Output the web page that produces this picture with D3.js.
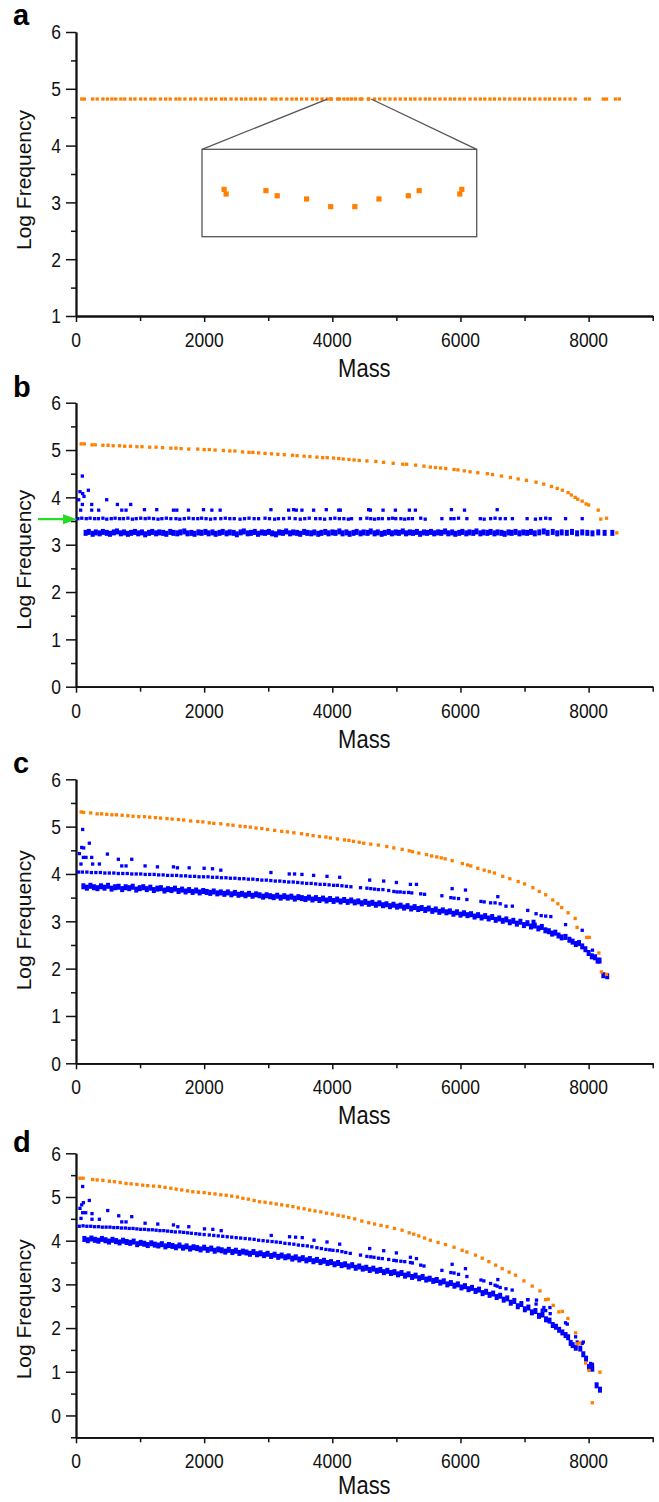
<!DOCTYPE html>
<html>
<head>
<meta charset="utf-8">
<script src="https://cdn.jsdelivr.net/npm/d3@7"></script>
<style>
  body { margin: 0; background: #fff; }
  svg { display: block; }
</style>
</head>
<body>
<script>
// ---- data: [mass, log frequency] ----

// panel a: one flat orange series
const aMass = [90, 130, 260, 330, 420, 490, 560, 620, 700, 760, 850, 920, 1010, 1080, 1170, 1230, 1320, 1400, 1470,
  1560, 1620, 1700, 1790, 1860, 1950, 2030, 2110, 2180, 2270, 2330, 2420, 2500, 2580, 2650, 2730, 2800, 2880, 2950,
  3060, 3120, 3200, 3290, 3370, 3440, 3520, 3600, 3690, 3760, 3840, 3920, 3977, 3982, 4081, 4109, 4182, 4242, 4302,
  4362, 4435, 4462, 4563, 4568, 4660, 4740, 4820, 4900, 4980, 5060, 5140, 5220, 5290, 5370, 5450, 5520, 5600, 5680,
  5760, 5840, 5910, 5990, 6060, 6150, 6230, 6310, 6380, 6460, 6530, 6610, 6690, 6770, 6850, 6920, 7000, 7080, 7160,
  7240, 7320, 7390, 7470, 7550, 7630, 7710, 7790, 7950, 8010, 8230, 8280, 8420, 8480];
const aLevel = 4.82;
const insetMass = [3977, 3982, 4081, 4109, 4182, 4242, 4302, 4362, 4435, 4462, 4563, 4568];
const insetFreq = [4.8225, 4.8193, 4.8216, 4.8181, 4.8159, 4.8106, 4.8106, 4.8159, 4.8181, 4.8216, 4.8193, 4.8225];
const insetMassRange = [3922, 4605];
const insetFreqRange = [4.79, 4.85];

// panel b
const bOrange = [[80,5.13],[130,5.13],[250,5.11],[300,5.11],[420,5.10],[500,5.10],[580,5.09],[680,5.09],[760,5.08],
  [850,5.08],[950,5.07],[1030,5.07],[1150,5.06],[1250,5.06],[1350,5.05],[1480,5.04],[1560,5.04],[1640,5.03],
  [1760,5.02],[1900,5.02],[2000,5.01],[2080,5.01],[2170,5.00],[2300,4.99],[2400,4.98],[2480,4.98],[2600,4.96],
  [2700,4.95],[2760,4.95],[2850,4.94],[2950,4.93],[3050,4.92],[3150,4.91],[3250,4.90],[3380,4.89],[3450,4.88],
  [3560,4.87],[3650,4.86],[3760,4.85],[3850,4.84],[3920,4.84],[4020,4.83],[4100,4.82],[4170,4.81],[4260,4.80],
  [4340,4.79],[4420,4.78],[4540,4.77],[4680,4.76],[4800,4.74],[4950,4.72],[5100,4.70],[5160,4.70],[5300,4.68],
  [5430,4.66],[5530,4.64],[5610,4.63],[5690,4.62],[5770,4.61],[5900,4.59],[5960,4.58],[6060,4.56],[6150,4.54],
  [6270,4.52],[6420,4.50],[6500,4.48],[6640,4.45],[6780,4.42],[6900,4.39],[7030,4.36],[7180,4.32],[7300,4.28],
  [7420,4.23],[7510,4.19],[7590,4.15],[7680,4.10],[7730,4.05],[7790,4.00],[7830,3.96],[7900,3.92],[7960,3.86],
  [8000,3.84],[8150,3.73],[8190,3.54],[8280,3.56],[8440,3.25]];
const bBand = [[150,3.25],[200,3.27],[260,3.23],[310,3.26],[370,3.24],[420,3.27],[480,3.25],[530,3.23],[590,3.26],
  [640,3.28],[700,3.24],[750,3.26],[810,3.23],[860,3.25],[920,3.27],[970,3.24],[1030,3.26],[1080,3.22],[1140,3.25],
  [1190,3.27],[1250,3.24],[1300,3.26],[1360,3.25],[1410,3.23],[1470,3.27],[1520,3.25],[1580,3.24],[1630,3.26],
  [1690,3.28],[1740,3.24],[1800,3.25],[1850,3.23],[1910,3.26],[1960,3.25],[2020,3.27],[2070,3.24],[2130,3.26],
  [2180,3.23],[2240,3.25],[2290,3.27],[2350,3.24],[2400,3.26],[2460,3.25],[2510,3.22],[2570,3.26],[2620,3.28],
  [2680,3.24],[2730,3.25],[2790,3.27],[2840,3.23],[2900,3.26],[2950,3.25],[3010,3.27],[3060,3.24],[3120,3.22],
  [3170,3.26],[3230,3.25],[3280,3.28],[3340,3.24],[3390,3.26],[3450,3.25],[3500,3.23],[3560,3.27],[3610,3.25],
  [3670,3.24],[3720,3.26],[3780,3.23],[3830,3.25],[3890,3.27],[3940,3.24],[4000,3.26],[4050,3.25],[4110,3.28],
  [4160,3.24],[4220,3.26],[4270,3.23],[4330,3.25],[4380,3.27],[4440,3.24],[4490,3.26],[4550,3.25],[4600,3.28],
  [4660,3.24],[4710,3.26],[4770,3.23],[4820,3.25],[4880,3.27],[4930,3.24],[4990,3.26],[5040,3.25],[5100,3.28],
  [5150,3.24],[5210,3.26],[5260,3.25],[5320,3.27],[5370,3.23],[5430,3.26],[5480,3.25],[5540,3.27],[5590,3.24],
  [5650,3.26],[5700,3.25],[5760,3.28],[5810,3.24],[5870,3.26],[5920,3.23],[5980,3.25],[6030,3.27],[6090,3.24],
  [6140,3.26],[6200,3.25],[6250,3.28],[6310,3.24],[6360,3.26],[6420,3.25],[6470,3.27],[6530,3.24],[6580,3.26],
  [6640,3.25],[6690,3.23],[6750,3.26],[6800,3.25],[6860,3.27],[6920,3.24],[6980,3.26],[7040,3.25],[7100,3.27],
  [7160,3.24],[7230,3.26],[7300,3.28],[7360,3.25],[7440,3.27],[7510,3.24],[7580,3.26],[7660,3.25],[7740,3.27],
  [7820,3.24],[7900,3.26],[7980,3.25],[8060,3.24],[8150,3.26],[8250,3.25],[8370,3.25]];
const bUpper = [[30,3.55],[90,3.56],[160,3.55],[220,3.56],[290,3.55],[350,3.55],[420,3.56],[480,3.54],[550,3.55],
  [610,3.56],[680,3.55],[740,3.55],[810,3.56],[880,3.54],[940,3.55],[1010,3.56],[1080,3.55],[1140,3.56],[1210,3.55],
  [1280,3.54],[1340,3.55],[1410,3.56],[1480,3.55],[1560,3.55],[1620,3.54],[1690,3.55],[1760,3.56],[1830,3.55],
  [1900,3.55],[1960,3.56],[2030,3.55],[2100,3.54],[2170,3.55],[2260,3.55],[2330,3.56],[2400,3.55],[2470,3.55],
  [2560,3.54],[2630,3.55],[2700,3.56],[2780,3.55],[2850,3.55],[2950,3.56],[3020,3.55],[3100,3.54],[3160,3.55],
  [3240,3.55],[3330,3.56],[3420,3.55],[3500,3.54],[3570,3.55],[3640,3.56],[3740,3.55],[3810,3.55],[3880,3.54],
  [3970,3.55],[4040,3.56],[4110,3.55],[4180,3.55],[4250,3.54],[4300,3.55],[4440,3.55],[4540,3.56],[4600,3.55],
  [4660,3.54],[4720,3.55],[4780,3.55],[4880,3.55],[4940,3.56],[4990,3.55],[5070,3.55],[5130,3.54],[5190,3.55],
  [5250,3.55],[5380,3.56],[5450,3.54],[5710,3.55],[5850,3.55],[5900,3.55],[5970,3.56],[6100,3.55],[6310,3.55],
  [6370,3.54],[6470,3.55],[6540,3.56],[6620,3.55],[6700,3.55],[6810,3.55],[7040,3.55],[7170,3.54],[7250,3.55],
  [7330,3.56],[7400,3.55],[7640,3.55],[7900,3.55]];
const bScatter = [[99,4.45],[62,4.12],[104,4.08],[42,3.95],[125,4.02],[193,4.15],[99,3.85],[245,3.85],[73,3.73],
  [245,3.73],[354,3.73],[479,3.95],[646,3.85],[714,3.73],[781,3.73],[854,3.85],[1068,3.74],[1260,3.74],[1521,3.73],
  [1573,3.73],[1755,3.73],[1990,3.74],[2120,3.73],[2250,3.73],[3042,3.74],[3318,3.73],[3396,3.74],[3438,3.73],
  [3526,3.73],[3708,3.73],[3906,3.74],[4100,3.73],[4125,3.73],[4567,3.74],[4594,3.73],[4792,3.73],[4984,3.73],
  [5203,3.73],[5297,3.73],[5859,3.74],[6063,3.73],[6573,3.74]];
const arrowFreq = 3.54;

// panel c
const cOrange = [[80,5.31],[120,5.30],[230,5.29],[330,5.27],[400,5.27],[480,5.26],[560,5.25],[630,5.25],[720,5.24],
  [810,5.23],[890,5.22],[980,5.21],[1070,5.21],[1150,5.20],[1240,5.19],[1320,5.18],[1420,5.17],[1500,5.16],
  [1600,5.15],[1680,5.14],[1790,5.12],[1900,5.11],[1980,5.10],[2080,5.08],[2150,5.07],[2260,5.06],[2370,5.04],
  [2450,5.03],[2560,5.01],[2640,5.00],[2720,4.99],[2810,4.97],[2900,4.96],[2990,4.94],[3100,4.92],[3210,4.90],
  [3300,4.89],[3400,4.87],[3520,4.85],[3610,4.83],[3700,4.81],[3800,4.79],[3900,4.78],[3970,4.76],[4080,4.74],
  [4190,4.72],[4260,4.71],[4330,4.69],[4420,4.67],[4490,4.65],[4600,4.63],[4720,4.61],[4850,4.58],[4960,4.55],
  [5090,4.52],[5200,4.49],[5250,4.47],[5350,4.44],[5470,4.41],[5550,4.38],[5630,4.36],[5700,4.34],[5760,4.32],
  [5870,4.28],[6030,4.22],[6110,4.19],[6160,4.17],[6270,4.12],[6370,4.08],[6450,4.05],[6530,4.02],[6660,3.95],
  [6770,3.90],[6900,3.84],[7000,3.79],[7130,3.71],[7230,3.63],[7330,3.56],[7440,3.45],[7520,3.37],[7580,3.29],
  [7680,3.18],[7790,3.06],[7820,2.87],[7970,2.66],[8010,2.66],[8160,2.33],[8200,1.93],[8280,1.88]];
const cBand = [[115,3.74],[170,3.71],[225,3.75],[280,3.72],[335,3.70],[390,3.74],[445,3.71],[500,3.75],[555,3.69],
  [610,3.72],[665,3.73],[720,3.68],[775,3.72],[830,3.70],[885,3.73],[940,3.67],[995,3.70],[1050,3.72],[1105,3.68],
  [1160,3.71],[1215,3.66],[1270,3.69],[1325,3.70],[1380,3.65],[1435,3.68],[1490,3.66],[1545,3.69],[1600,3.64],
  [1655,3.67],[1710,3.63],[1765,3.66],[1820,3.62],[1875,3.65],[1930,3.61],[1985,3.64],[2040,3.62],[2095,3.60],
  [2150,3.63],[2205,3.59],[2260,3.61],[2315,3.58],[2370,3.61],[2425,3.57],[2480,3.60],[2535,3.56],[2590,3.58],
  [2645,3.55],[2700,3.58],[2755,3.54],[2810,3.57],[2865,3.55],[2920,3.52],[2975,3.55],[3030,3.53],[3085,3.51],
  [3140,3.54],[3195,3.50],[3250,3.53],[3305,3.50],[3360,3.52],[3415,3.48],[3470,3.51],[3525,3.49],[3580,3.47],
  [3635,3.50],[3690,3.46],[3745,3.49],[3800,3.45],[3855,3.48],[3910,3.44],[3965,3.47],[4020,3.43],[4075,3.46],
  [4130,3.42],[4185,3.45],[4240,3.41],[4295,3.44],[4350,3.40],[4405,3.42],[4460,3.38],[4515,3.41],[4570,3.37],
  [4625,3.39],[4680,3.35],[4735,3.38],[4790,3.34],[4845,3.36],[4900,3.32],[4955,3.35],[5010,3.31],[5065,3.33],
  [5120,3.29],[5175,3.32],[5230,3.27],[5285,3.30],[5340,3.26],[5395,3.28],[5450,3.24],[5505,3.27],[5560,3.22],
  [5615,3.25],[5670,3.20],[5725,3.23],[5780,3.19],[5835,3.21],[5890,3.16],[5945,3.19],[6000,3.14],[6055,3.17],
  [6110,3.13],[6165,3.15],[6220,3.10],[6275,3.13],[6330,3.08],[6385,3.11],[6440,3.06],[6495,3.09],[6550,3.03],
  [6605,3.06],[6660,3.01],[6715,3.04],[6770,2.98],[6825,3.01],[6880,2.95],[6935,2.99],[6990,2.92],[7045,2.96],
  [7100,2.89],[7140,2.97],[7160,2.91],[7215,2.85],[7270,2.88],[7325,2.81],[7380,2.79],[7430,2.74],[7480,2.76],
  [7530,2.70],[7580,2.66],[7640,2.67],[7700,2.61],[7750,2.57],[7800,2.52],[7850,2.54],[7900,2.47],[7950,2.41],
  [8000,2.33],[8050,2.26],[8100,2.24],[8140,2.17],[8170,2.17],[8230,1.86],[8290,1.84]];
const cUpper = [[40,4.04],[100,4.04],[170,4.04],[240,4.03],[310,4.03],[380,4.03],[450,4.02],[520,4.02],[590,4.02],
  [660,4.01],[730,4.01],[800,4.01],[870,4.00],[940,4.00],[1010,4.00],[1080,3.99],[1150,3.99],[1220,3.99],[1290,3.98],
  [1360,3.98],[1430,3.97],[1500,3.97],[1570,3.97],[1640,3.96],[1710,3.96],[1780,3.95],[1850,3.95],[1920,3.94],
  [1990,3.94],[2060,3.94],[2130,3.93],[2200,3.93],[2270,3.92],[2340,3.92],[2410,3.91],[2480,3.91],[2550,3.90],
  [2620,3.90],[2690,3.89],[2760,3.89],[2830,3.88],[2900,3.87],[2970,3.87],[3040,3.86],[3110,3.85],[3180,3.85],
  [3250,3.84],[3320,3.83],[3390,3.83],[3460,3.82],[3530,3.81],[3600,3.80],[3670,3.80],[3740,3.79],[3810,3.78],
  [3880,3.78],[3950,3.77],[4020,3.76],[4080,3.76],[4150,3.75],[4220,3.74],[4290,3.73],[4440,3.71],[4540,3.70],
  [4600,3.69],[4660,3.68],[4720,3.67],[4790,3.67],[4880,3.65],[4960,3.63],[5010,3.62],[5060,3.62],[5120,3.61],
  [5190,3.61],[5240,3.60],[5380,3.58],[5440,3.57],[5710,3.54],[5850,3.50],[5900,3.49],[5970,3.48],[6100,3.46],
  [6320,3.42],[6370,3.41],[6470,3.39],[6540,3.39],[6620,3.37],[6710,3.32],[6810,3.32],[7050,3.23],[7180,3.16],
  [7260,3.12],[7330,3.11],[7410,3.10],[7640,2.93],[7900,2.81],[8060,2.39]];
const cScatter = [[104,4.94],[52,4.43],[89,4.56],[120,4.55],[115,4.35],[156,4.35],[78,4.21],[208,4.65],[245,4.35],
  [260,4.21],[365,4.21],[490,4.42],[661,4.31],[714,4.17],[781,4.17],[870,4.31],[1078,4.17],[1271,4.15],[1521,4.15],
  [1583,4.13],[1766,4.13],[2000,4.12],[2130,4.11],[2260,4.08],[3042,4.03],[3328,4.00],[3411,4.00],[3526,3.99],
  [3708,3.97],[3917,3.95],[4115,3.93],[4583,3.87],[4802,3.85],[5000,3.82],[5219,3.78],[5313,3.78],[5870,3.69],
  [6078,3.66],[6583,3.52]];

// panel d
const dOrange = [[62,5.43],[110,5.43],[260,5.40],[330,5.39],[420,5.38],[521,5.36],[600,5.35],[690,5.33],[781,5.31],
  [860,5.30],[950,5.29],[1042,5.27],[1120,5.26],[1210,5.25],[1302,5.24],[1390,5.22],[1480,5.20],[1563,5.18],
  [1650,5.16],[1740,5.14],[1823,5.12],[1910,5.11],[2000,5.10],[2083,5.08],[2170,5.07],[2260,5.05],[2344,5.04],
  [2430,5.02],[2520,5.00],[2604,4.97],[2690,4.95],[2780,4.92],[2865,4.89],[2950,4.88],[3040,4.86],[3125,4.84],
  [3210,4.82],[3300,4.80],[3385,4.78],[3470,4.75],[3560,4.73],[3646,4.70],[3730,4.68],[3820,4.66],[3910,4.63],
  [4000,4.61],[4090,4.58],[4170,4.56],[4255,4.53],[4350,4.50],[4460,4.45],[4568,4.41],[4660,4.38],[4760,4.35],
  [4854,4.32],[4970,4.28],[5089,4.24],[5200,4.18],[5270,4.15],[5349,4.11],[5440,4.06],[5531,4.01],[5650,3.96],
  [5766,3.91],[5900,3.85],[6026,3.78],[6100,3.74],[6234,3.67],[6340,3.60],[6443,3.52],[6550,3.44],[6651,3.36],
  [6760,3.28],[6859,3.21],[6990,3.08],[7120,2.96],[7240,2.85],[7328,2.65],[7370,2.66],[7448,2.52],[7536,2.37],
  [7590,2.38],[7677,2.22],[7797,1.89],[7823,1.64],[7860,1.66],[7953,1.20],[8005,1.03],[8057,0.29],[8177,0.99]];
const dBand = [[130,4.04],[185,4.01],[240,4.05],[295,4.02],[350,4.00],[405,4.04],[460,4.01],[515,3.98],[570,4.02],
  [625,3.99],[680,3.96],[735,4.00],[790,3.97],[845,3.95],[900,3.98],[955,3.92],[1010,3.95],[1065,3.93],[1120,3.90],
  [1175,3.94],[1230,3.91],[1285,3.89],[1340,3.92],[1395,3.87],[1450,3.90],[1505,3.88],[1560,3.85],[1615,3.89],
  [1670,3.84],[1725,3.87],[1780,3.82],[1835,3.85],[1890,3.83],[1945,3.80],[2000,3.84],[2055,3.79],[2110,3.82],
  [2165,3.77],[2220,3.80],[2275,3.78],[2330,3.75],[2385,3.79],[2440,3.74],[2495,3.77],[2550,3.72],[2605,3.75],
  [2660,3.73],[2715,3.70],[2770,3.74],[2825,3.69],[2880,3.71],[2935,3.67],[2990,3.70],[3045,3.65],[3100,3.68],
  [3155,3.63],[3210,3.66],[3265,3.62],[3320,3.64],[3375,3.59],[3430,3.62],[3485,3.57],[3540,3.60],[3595,3.55],
  [3650,3.58],[3705,3.53],[3760,3.56],[3815,3.51],[3870,3.54],[3925,3.49],[3980,3.51],[4035,3.46],[4090,3.49],
  [4145,3.44],[4200,3.46],[4255,3.41],[4310,3.44],[4365,3.38],[4420,3.41],[4475,3.36],[4530,3.38],[4585,3.33],
  [4640,3.36],[4695,3.31],[4750,3.33],[4805,3.28],[4860,3.31],[4915,3.26],[4970,3.28],[5025,3.23],[5080,3.26],
  [5135,3.20],[5190,3.23],[5245,3.17],[5300,3.20],[5355,3.14],[5410,3.17],[5465,3.11],[5520,3.13],[5575,3.08],
  [5630,3.10],[5685,3.04],[5740,3.07],[5795,3.00],[5850,3.03],[5905,2.97],[5960,3.00],[6015,2.93],[6070,2.96],
  [6125,2.89],[6180,2.92],[6235,2.85],[6290,2.88],[6345,2.80],[6400,2.83],[6455,2.76],[6510,2.79],[6565,2.71],
  [6620,2.74],[6675,2.65],[6730,2.68],[6785,2.58],[6840,2.62],[6895,2.50],[6950,2.55],[7005,2.43],[7060,2.47],
  [7115,2.36],[7170,2.39],[7225,2.28],[7280,2.31],[7335,2.20],[7390,2.17],[7440,2.07],[7490,2.03],[7540,1.96],
  [7590,1.90],[7640,1.84],[7680,1.79],[7720,1.66],[7750,1.61],[7800,1.55],[7870,1.53],[7917,1.40],[7960,1.30],
  [8005,1.11],[8057,1.07],[8125,0.69],[8177,0.59]];
const dUpper = [[50,4.33],[110,4.34],[170,4.33],[230,4.33],[290,4.32],[350,4.32],[410,4.31],[470,4.31],[530,4.31],
  [590,4.30],[650,4.30],[710,4.29],[770,4.29],[830,4.28],[890,4.28],[950,4.27],[1010,4.26],[1070,4.26],[1130,4.25],
  [1190,4.25],[1250,4.24],[1310,4.23],[1370,4.23],[1430,4.22],[1490,4.21],[1550,4.20],[1620,4.20],[1680,4.19],
  [1740,4.18],[1800,4.17],[1870,4.16],[1930,4.15],[2000,4.14],[2080,4.13],[2150,4.12],[2220,4.11],[2290,4.10],
  [2360,4.09],[2430,4.08],[2500,4.07],[2570,4.06],[2640,4.05],[2710,4.04],[2780,4.03],[2850,4.01],[2920,4.00],
  [2990,3.99],[3060,3.98],[3125,3.97],[3190,3.96],[3260,3.94],[3330,3.93],[3400,3.92],[3470,3.90],[3540,3.89],
  [3610,3.88],[3680,3.86],[3760,3.84],[3830,3.82],[3900,3.80],[3960,3.79],[4010,3.78],[4080,3.77],[4150,3.75],
  [4210,3.73],[4280,3.71],[4440,3.67],[4540,3.64],[4600,3.63],[4650,3.62],[4720,3.60],[4780,3.59],[4880,3.57],
  [4960,3.55],[5000,3.54],[5070,3.53],[5130,3.52],[5220,3.50],[5250,3.49],[5380,3.44],[5430,3.42],[5710,3.32],
  [5850,3.27],[5900,3.26],[5970,3.23],[6100,3.18],[6320,3.10],[6365,3.08],[6470,3.02],[6540,2.98],[6573,2.96],
  [6620,2.93],[6710,2.90],[6807,2.87],[7050,2.65],[7180,2.55],[7276,2.41],[7330,2.40],[7400,2.33],[7640,2.12],
  [7667,2.09],[7823,1.68],[7900,1.65],[8031,1.19],[8060,1.17]];
const dScatter = [[104,5.24],[115,4.87],[89,4.82],[208,4.92],[62,4.74],[104,4.64],[151,4.64],[250,4.62],[78,4.51],
  [250,4.49],[365,4.49],[495,4.69],[667,4.57],[714,4.43],[781,4.43],[870,4.55],[1078,4.40],[1276,4.38],[1521,4.36],
  [1589,4.32],[1760,4.32],[2005,4.27],[2135,4.26],[2266,4.23],[3047,4.12],[3333,4.09],[3427,4.08],[3531,4.07],
  [3714,4.01],[3917,3.97],[4115,3.92],[4583,3.82],[4802,3.77],[5000,3.72],[5219,3.62],[5313,3.59],[5870,3.46],
  [6078,3.36],[6583,3.11],[7052,2.65],[7187,2.64],[7302,2.47],[7396,2.47],[7797,1.80],[7917,1.68]];

const massMajor = [0, 2000, 4000, 6000, 8000];
const massMinor = [1000, 3000, 5000, 7000, 9000];

// ---- drawing ----
const width = 659, height = 1502;
const left = 76, right = 652.7, plotH = 284;
const font = '"Liberation Sans", Arial, Helvetica, sans-serif';
const orange = '#ff8000', blue = '#0000ff', ink = '#111';
const dot = 3.3;                       // square marker side
const bandDotW = 4, bandDotH = 6;      // marks in the dense bands overlap into a solid strip
const tickFont = 17.5, tickStretch = 1.2;

const svg = d3.select('body').append('svg')
  .attr('width', width)
  .attr('height', height)
  .style('font-family', font);

const x = d3.scaleLinear().domain([0, 9000]).range([left, right]);

const panels = [
  { letter: 'a', top: 32, domain: [1, 6], letterY: 25, titleY: 148, massY: 61,
    band: [], blue: [], orange: aMass.map(m => [m, aLevel]) },
  { letter: 'b', top: 402.7, domain: [0, 6], letterY: 397, titleY: 157, massY: 61,
    band: bBand, blue: [bUpper, bScatter], orange: bOrange },
  { letter: 'c', top: 779.3, domain: [0, 6], letterY: 773, titleY: 141, massY: 61,
    band: cBand, blue: [cUpper, cScatter], orange: cOrange },
  { letter: 'd', top: 1153.3, domain: [-0.5, 6], letterY: 1152, titleY: 156, massY: 57,
    band: dBand, blue: [dUpper, dScatter], orange: dOrange },
];

function styleAxis(sel) {
  sel.select('.domain').attr('stroke', ink).attr('stroke-width', 1.8);
  sel.selectAll('.tick line').attr('stroke', ink).attr('stroke-width', 1.5);
}

function drawDots(g, data, y, color, w, h) {
  g.append('g')
    .selectAll('rect')
    .data(data)
    .join('rect')
      .attr('x', d => x(d[0]) - w / 2)
      .attr('y', d => y(d[1]) - h / 2)
      .attr('width', w)
      .attr('height', h)
      .attr('fill', color);
}

panels.forEach(p => {
  const bottom = p.top + plotH;
  const y = d3.scaleLinear().domain(p.domain).range([bottom, p.top]);
  const g = svg.append('g');

  const yMajor = d3.range(Math.ceil(p.domain[0]), p.domain[1] + 1e-6, 1);
  const yMinor = d3.range(p.domain[0], p.domain[1] + 1e-6, 0.5).filter(v => !Number.isInteger(v));

  g.append('g')
    .attr('transform', `translate(${left},0)`)
    .call(d3.axisLeft(y).tickValues(yMinor).tickSize(5).tickFormat('').tickSizeOuter(0))
    .call(styleAxis);
  g.append('g')
    .attr('transform', `translate(${left},0)`)
    .call(d3.axisLeft(y).tickValues(yMajor).tickSize(10).tickFormat('').tickSizeOuter(0))
    .call(styleAxis);
  g.append('g')
    .attr('transform', `translate(0,${bottom})`)
    .call(d3.axisBottom(x).tickValues(massMinor).tickSize(5).tickFormat('').tickSizeOuter(0))
    .call(styleAxis);
  g.append('g')
    .attr('transform', `translate(0,${bottom})`)
    .call(d3.axisBottom(x).tickValues(massMajor).tickSize(6).tickFormat('').tickSizeOuter(0))
    .call(styleAxis);

  // tick labels (the original lettering is slightly tall)
  g.append('g')
    .selectAll('text')
    .data(yMajor)
    .join('text')
      .attr('transform', d => `translate(${left - 15},${y(d) + 7.4}) scale(1,${tickStretch})`)
      .attr('text-anchor', 'end')
      .attr('font-size', tickFont)
      .attr('fill', ink)
      .text(d => d);
  g.append('g')
    .selectAll('text')
    .data(massMajor)
    .join('text')
      .attr('transform', d => `translate(${x(d)},${bottom + 31}) scale(1,${tickStretch})`)
      .attr('text-anchor', 'middle')
      .attr('font-size', tickFont)
      .attr('fill', ink)
      .text(d => d);

  // axis titles and panel letter
  g.append('text')
    .attr('transform', `translate(31,${p.top + p.titleY}) rotate(-90)`)
    .attr('text-anchor', 'middle')
    .attr('font-size', 21)
    .attr('fill', ink)
    .text('Log Frequency');
  g.append('text')
    .attr('transform', `translate(${(left + right) / 2},${bottom + p.massY}) scale(1,1.2)`)
    .attr('text-anchor', 'middle')
    .attr('font-size', 22)
    .attr('fill', ink)
    .text('Mass');
  g.append('text')
    .attr('x', 13)
    .attr('y', p.letterY)
    .attr('font-size', 29)
    .attr('font-weight', 'bold')
    .attr('fill', '#000')
    .text(p.letter);

  drawDots(g, p.band, y, blue, bandDotW, bandDotH);
  p.blue.forEach(s => drawDots(g, s, y, blue, dot, dot));
  drawDots(g, p.orange, y, orange, dot, dot);

  if (p.letter === 'a') {
    // zoomed inset of the flat line
    const box = { x0: 202, y0: 149.3, x1: 476.7, y1: 236.7 };
    const ix = d3.scaleLinear().domain(insetMassRange).range([box.x0, box.x1]);
    const iy = d3.scaleLinear().domain(insetFreqRange).range([box.y1, box.y0]);
    g.append('rect')
      .attr('x', box.x0).attr('y', box.y0)
      .attr('width', box.x1 - box.x0).attr('height', box.y1 - box.y0)
      .attr('fill', 'none').attr('stroke', '#555').attr('stroke-width', 1.3);
    g.append('line')
      .attr('x1', box.x0).attr('y1', box.y0)
      .attr('x2', x(insetMassRange[0])).attr('y2', y(aLevel))
      .attr('stroke', '#555').attr('stroke-width', 1.3);
    g.append('line')
      .attr('x1', x(insetMassRange[1])).attr('y1', y(aLevel))
      .attr('x2', box.x1).attr('y2', box.y0)
      .attr('stroke', '#555').attr('stroke-width', 1.3);
    g.append('g')
      .selectAll('rect')
      .data(insetMass.map((m, i) => [m, insetFreq[i]]))
      .join('rect')
        .attr('x', d => ix(d[0]) - 2.6)
        .attr('y', d => iy(d[1]) - 2.6)
        .attr('width', 5.2)
        .attr('height', 5.2)
        .attr('fill', orange);
  }

  if (p.letter === 'b') {
    // green arrow marking the second blue band
    const ay = y(arrowFreq);
    g.append('line')
      .attr('x1', 38).attr('y1', ay)
      .attr('x2', 65).attr('y2', ay)
      .attr('stroke', '#22dd22').attr('stroke-width', 2.2);
    g.append('path')
      .attr('d', `M63,${ay - 5}L${left + 1},${ay}L63,${ay + 5}Z`)
      .attr('fill', '#22dd22');
  }
});
</script>
</body>
</html>
